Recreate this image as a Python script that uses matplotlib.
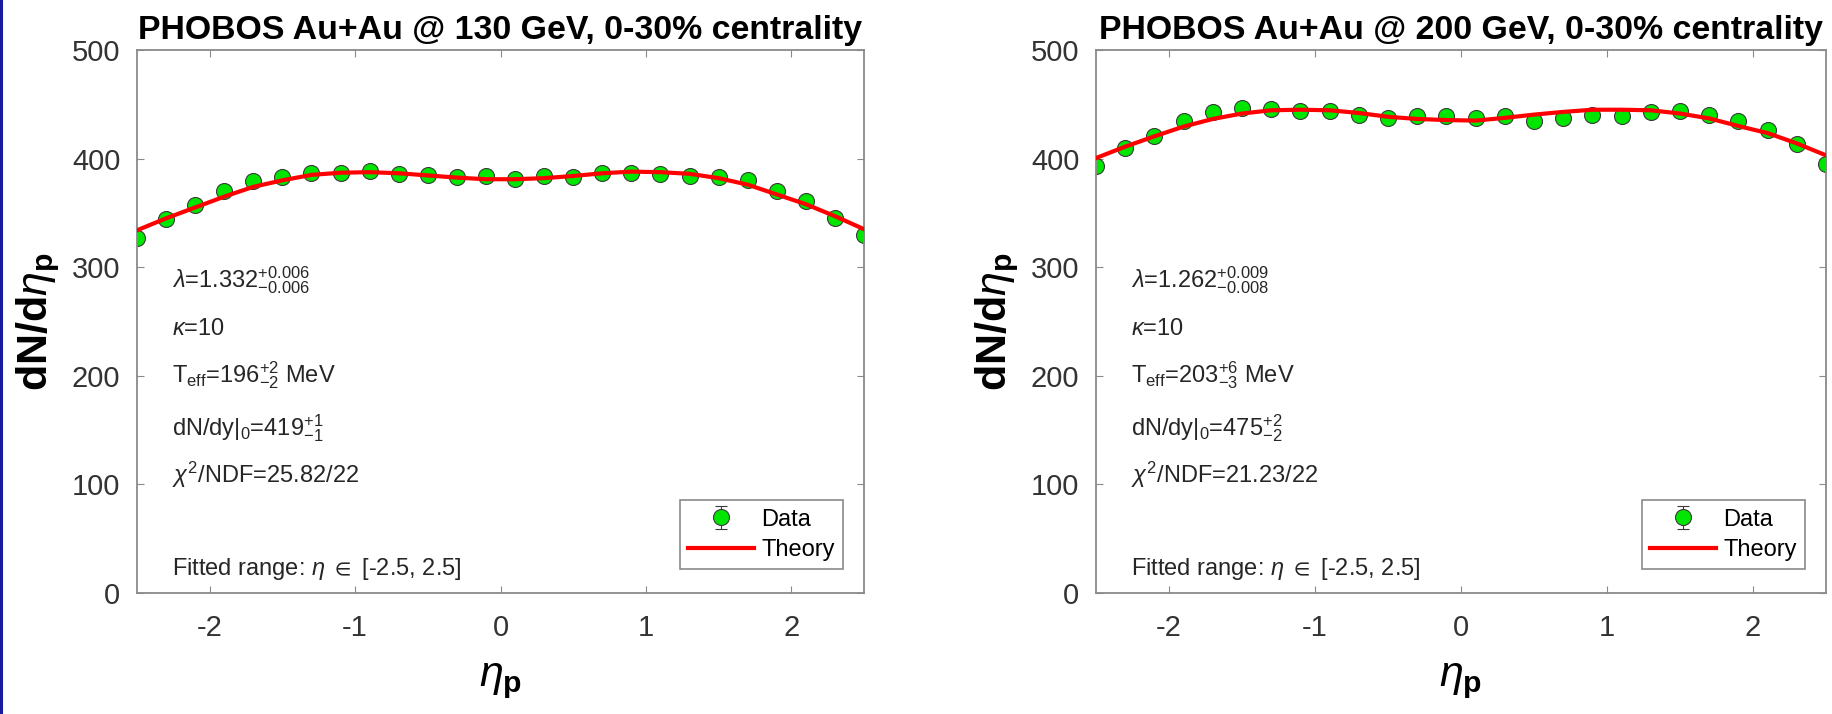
import numpy as np
import matplotlib
matplotlib.use('Agg')
import matplotlib.pyplot as plt
from matplotlib.lines import Line2D

# fuentes parecidas a las de matlab
plt.rcParams['font.family'] = ['Liberation Sans', 'DejaVu Sans']
plt.rcParams['mathtext.fontset'] = 'custom'
plt.rcParams['mathtext.rm'] = 'Liberation Sans'
plt.rcParams['mathtext.it'] = 'Liberation Sans:italic'
plt.rcParams['mathtext.bf'] = 'Liberation Sans:bold'
plt.rcParams['mathtext.default'] = 'regular'
plt.rcParams['mathtext.fallback'] = 'stixsans'
plt.rcParams['axes.unicode_minus'] = False

# pseudorapidez de los puntos
eta = [-2.5, -2.3, -2.1, -1.9, -1.7, -1.5, -1.3, -1.1, -0.9, -0.7, -0.5, -0.3, -0.1,
       0.1, 0.3, 0.5, 0.7, 0.9, 1.1, 1.3, 1.5, 1.7, 1.9, 2.1, 2.3, 2.5]

# 130 GeV
data_130 = [327, 344, 357, 370, 379, 383, 387, 387, 389, 386, 385, 383, 384,
            381, 384, 383, 387, 387, 386, 384, 383, 380, 370, 361, 345, 330]
theory_130 = [334, 345, 355, 365, 374, 380, 385, 387, 387.5, 386.5, 384.5, 382.5, 381,
              381, 382, 384, 386.5, 388, 387.5, 386, 382, 376, 367, 358, 347, 335]
# 200 GeV
data_200 = [393, 410, 420.5, 435, 442.5, 446.5, 446, 443.5, 443.5, 440.5, 437.5, 439.5, 439,
            437.5, 439.5, 434.5, 437.5, 440.5, 439, 442.5, 443.5, 440.5, 435, 426, 413, 395]
theory_200 = [400.5, 411, 420.5, 429.5, 436.5, 441.5, 444.5, 445, 444.5, 442, 438.5, 436.5, 435.5,
              435, 437.5, 440.5, 443, 445, 445, 444.5, 441.5, 437, 430, 423.5, 414, 403]
# errores (caben dentro del marcador)
err = [3]*26

titles = ['PHOBOS Au+Au @ 130 GeV, 0-30% centrality',
          'PHOBOS Au+Au @ 200 GeV, 0-30% centrality']
txt_130 = [r'$\mathit{λ}$=1.332$^{+0.006}_{-0.006}$', r'$\mathit{κ}$=10',
           r'T$_{eff}$=196$^{+2}_{-2}$ MeV', r'dN/dy|$_0$=419$^{+1}_{-1}$',
           r'$\mathit{χ}^2$/NDF=25.82/22']
txt_200 = [r'$\mathit{λ}$=1.262$^{+0.009}_{-0.008}$', r'$\mathit{κ}$=10',
           r'T$_{eff}$=203$^{+6}_{-3}$ MeV', r'dN/dy|$_0$=475$^{+2}_{-2}$',
           r'$\mathit{χ}^2$/NDF=21.23/22']
txt_y = [0.5635, 0.475, 0.387, 0.291, 0.2026]

fig = plt.figure(figsize=(18.32, 7.14), dpi=100)
ax1 = fig.add_axes([137/1832, 121/714, 727/1832, 543/714])
ax2 = fig.add_axes([1096/1832, 121/714, 730/1832, 543/714])

for ax, dat, teo, tit, txt in [(ax1, data_130, theory_130, titles[0], txt_130),
                               (ax2, data_200, theory_200, titles[1], txt_200)]:
    h1 = ax.errorbar(eta, dat, yerr=err, fmt='o', color='#00e600', markeredgecolor='#3a3a3a',
                     markeredgewidth=0.8, markersize=11.5, ecolor='#3a3a3a', elinewidth=0.8,
                     capsize=4, label='Data', zorder=2)
    h2, = ax.plot(eta, teo, '-', color='red', lw=3, label='Theory', zorder=3)
    ax.set_xlim(-2.5, 2.5)
    ax.set_ylim(0, 500)
    ax.set_xticks([-2, -1, 0, 1, 2])
    ax.set_yticks([0, 100, 200, 300, 400, 500])
    ax.tick_params(direction='in', length=5, width=0.8, top=True, right=True,
                   labelsize=21, colors='#8a8a8a', labelcolor='#333333', pad=12)
    ax.tick_params(axis='x', pad=15)
    for s in ax.spines.values():
        s.set_color('#8a8a8a')
        s.set_linewidth(1.3)
    ax.set_title(tit, fontsize=24.4, fontweight='bold', pad=8)
    ax.set_ylabel(r'dN/d$\mathit{η}_\mathbf{p}$', fontsize=31, fontweight='bold', labelpad=7)
    ax.set_xlabel(r'$\mathit{η}_\mathbf{p}$', fontsize=31, fontweight='bold', labelpad=14)
    for t, y in zip(txt, txt_y):
        ax.text(0.048, y, t, transform=ax.transAxes, fontsize=17, color='#262626', va='baseline')
    ax.text(0.048, 0.033, r'Fitted range: $\mathit{η}$ $\in$ [-2.5, 2.5]', transform=ax.transAxes,
            fontsize=17, color='#262626', va='baseline')
    leg = ax.legend([h1, h2], ['Data', 'Theory'], loc='lower right', bbox_to_anchor=(0.971, 0.044),
                    fontsize=17, fancybox=False, framealpha=1, edgecolor='#8a8a8a', handlelength=2.8,
                    handletextpad=0.3, borderpad=0.35, labelspacing=0.35, borderaxespad=0)
    leg.get_frame().set_linewidth(1.2)

# borde azul de la diapositiva
fig.add_artist(Line2D([0.0008, 0.0008], [0, 1], transform=fig.transFigure, color='#1a1a9c', lw=2.2))

plt.savefig('out.png', dpi=100)
